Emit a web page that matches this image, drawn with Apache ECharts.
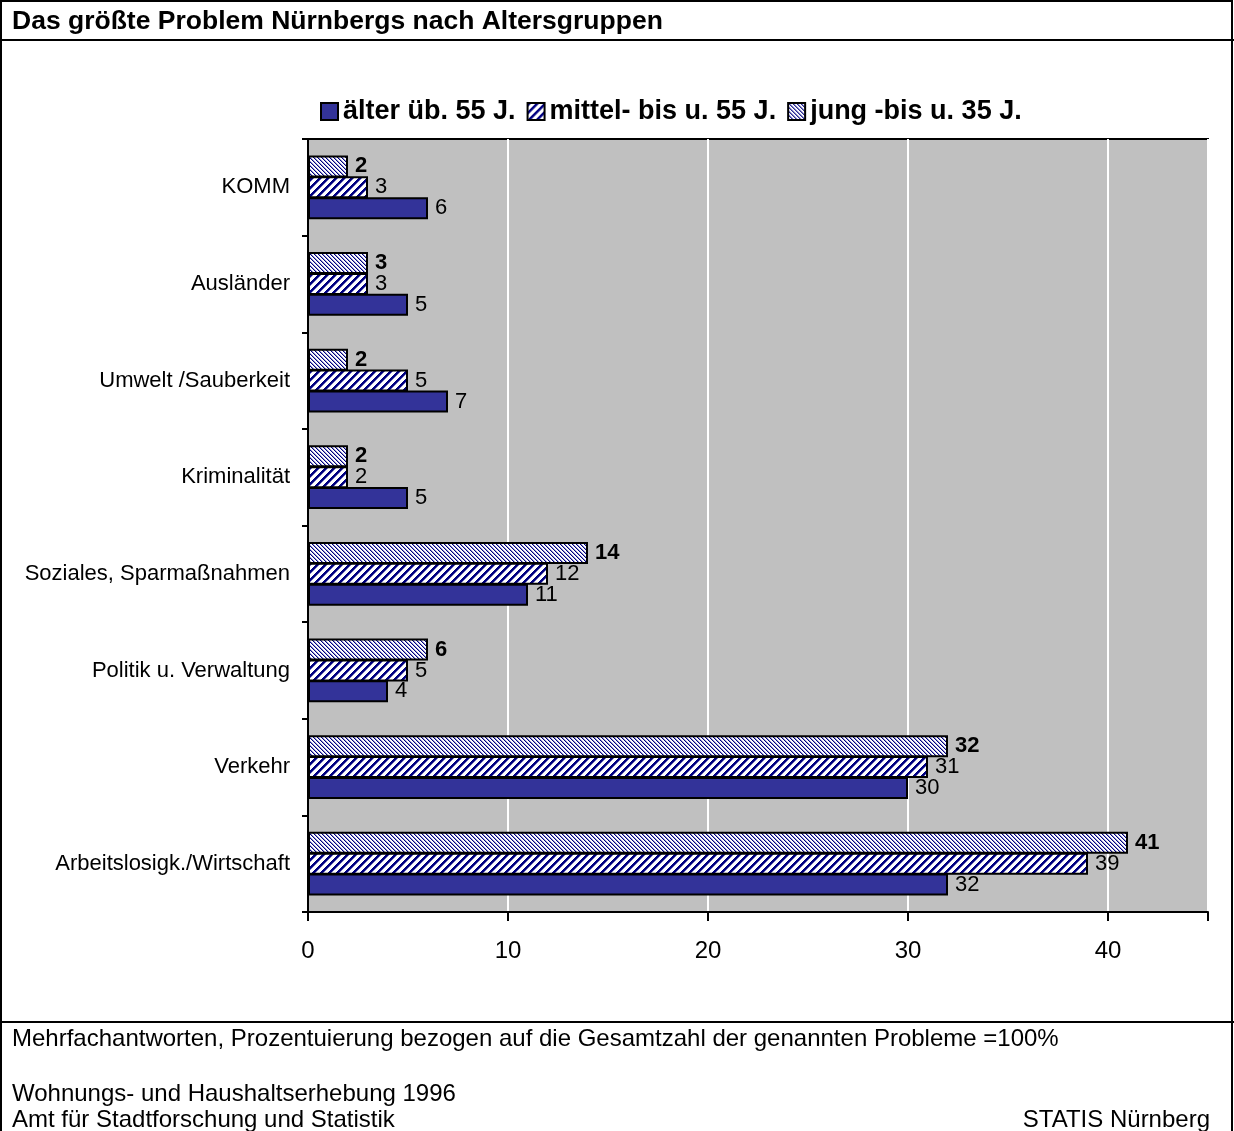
<!DOCTYPE html>
<html>
<head>
<meta charset="utf-8">
<script src="https://cdn.jsdelivr.net/npm/echarts@6/dist/echarts.min.js"></script>
<style>
  html, body { margin: 0; padding: 0; background: #fff; }
  #chart { width: 1234px; height: 1131px; }
</style>
</head>
<body>
<div id="chart"></div>
<script>
// Kategorien von unten nach oben
var categories = ['Arbeitslosigk./Wirtschaft', 'Verkehr', 'Politik u. Verwaltung', 'Soziales, Sparmaßnahmen',
    'Kriminalität', 'Umwelt /Sauberkeit', 'Ausländer', 'KOMM'];
var seriesNames = ['älter üb. 55 J.', 'mittel- bis u. 55 J.', 'jung -bis u. 35 J.'];
var aelter = [32, 30, 4, 11, 5, 7, 5, 6];
var mittel = [39, 31, 5, 12, 2, 5, 3, 3];
var jung = [41, 32, 6, 14, 2, 2, 3, 2];
var xTicks = [0, 10, 20, 30, 40];

//Schraffur als Canvas-Muster
function hatch(period, shades, dir) {
    var c = document.createElement('canvas');
    c.width = period; c.height = period;
    var ctx = c.getContext('2d');
    var img = ctx.createImageData(period, period);
    for (var y = 0; y < period; y++) {
        for (var x = 0; x < period; x++) {
            var k = dir > 0 ? (x + y) % period : ((x - y) % period + period) % period;
            var i = (y * period + x) * 4;
            var s = k < shades.length ? shades[k] : [255, 255, 255];
            img.data[i] = s[0];
            img.data[i + 1] = s[1];
            img.data[i + 2] = s[2];
            img.data[i + 3] = 255;
        }
    }
    ctx.putImageData(img, 0, 0);
    return c;
}

var chart = echarts.init(document.getElementById('chart'));

function barSeries(name, data, fill, bold) {
    return {
        name: name,
        type: 'bar',
        data: data,
        barWidth: 22,
        barGap: '-5%',
        barCategoryGap: '30%',
        itemStyle: {color: fill, borderColor: '#000', borderWidth: 2},
        label: {
            show: true, position: 'right', distance: 7,
            fontFamily: 'Liberation Sans, Arial', fontSize: 22,
            fontWeight: bold ? 'bold' : 'normal', color: '#000'
        },
        silent: true
    };
}

chart.setOption({
    animation: false,
    textStyle: {fontFamily: 'Liberation Sans, Arial'},
    grid: {left: 308, top: 139, right: 26, bottom: 219, show: true,
        backgroundColor: '#C0C0C0', borderColor: '#000', borderWidth: 2},
    legend: {
        data: seriesNames,
        top: 93, left: 315,
        icon: 'rect',
        itemWidth: 17, itemHeight: 17, itemGap: 11,
        textStyle: {fontSize: 27, fontWeight: 'bold', color: '#000'},
        selectedMode: false
    },
    xAxis: {
        type: 'value', min: 0, max: 45, interval: 10,
        axisLine: {show: true, lineStyle: {color: '#000', width: 2}},
        axisTick: {show: true, length: 9, lineStyle: {color: '#000', width: 2}},
        axisLabel: {fontSize: 24, color: '#000', margin: 27,
            formatter: function (v) { return xTicks.indexOf(v) >= 0 ? v : ''; }},
        splitLine: {show: true, lineStyle: {color: '#fff', width: 2}}
    },
    yAxis: {
        type: 'category', data: categories,
        axisLine: {show: true, lineStyle: {color: '#000', width: 2}},
        axisTick: {show: true, length: 6, lineStyle: {color: '#000', width: 2}},
        axisLabel: {fontSize: 22, color: '#000', margin: 18}
    },
    // Reihenfolge im Balken: jung oben, älter unten
    series: [
        barSeries(seriesNames[2], jung, {image: hatch(4, [[0, 0, 128], [150, 150, 205]], -1), repeat: 'repeat'}, true),
        barSeries(seriesNames[1], mittel, {image: hatch(8, [[0, 0, 128], [0, 0, 128], [0, 0, 128], [120, 120, 190]], 1), repeat: 'repeat'}, false),
        barSeries(seriesNames[0], aelter, '#333399', false)
    ],
    graphic: [
        {type: 'rect', shape: {x: 1, y: 1, width: 1231, height: 1140}, style: {fill: 'none', stroke: '#000', lineWidth: 2}},
        {type: 'line', shape: {x1: 0, y1: 40, x2: 1234, y2: 40}, style: {stroke: '#000', lineWidth: 2}},
        {type: 'line', shape: {x1: 0, y1: 1022, x2: 1234, y2: 1022}, style: {stroke: '#000', lineWidth: 2}},
        {type: 'text', left: 12, top: 8, style: {text: 'Das größte Problem Nürnbergs nach Altersgruppen',
            font: 'bold 26.5px Liberation Sans, Arial', fill: '#000'}},
        {type: 'text', left: 12, top: 1027, style: {text: 'Mehrfachantworten, Prozentuierung bezogen auf die Gesamtzahl der genannten Probleme =100%',
            font: '24px Liberation Sans, Arial', fill: '#000'}},
        {type: 'text', left: 12, top: 1082, style: {text: 'Wohnungs- und Haushaltserhebung 1996',
            font: '24px Liberation Sans, Arial', fill: '#000'}},
        {type: 'text', left: 12, top: 1108, style: {text: 'Amt für Stadtforschung und Statistik',
            font: '24px Liberation Sans, Arial', fill: '#000'}},
        {type: 'text', right: 24, top: 1108, style: {text: 'STATIS Nürnberg',
            font: '24px Liberation Sans, Arial', fill: '#000'}}
    ]
});
</script>
</body>
</html>
